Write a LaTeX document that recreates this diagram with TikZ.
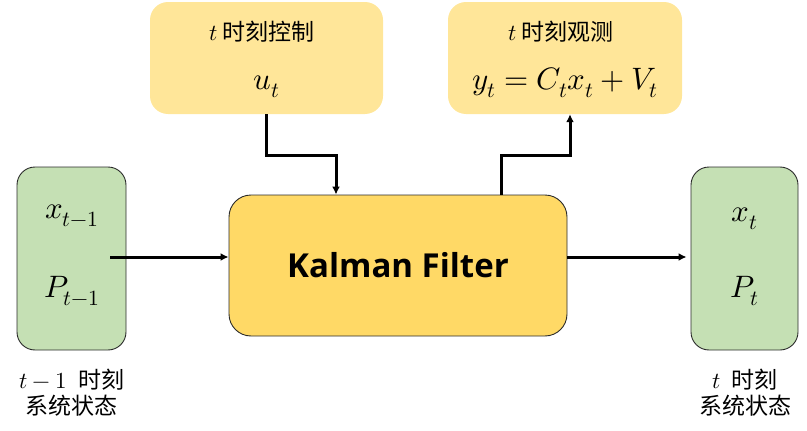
\documentclass[tikz,border=0pt]{standalone}
\usepackage{fontspec}
\usepackage{unicode-math}
\newfontfamily\cjk{Noto Sans CJK SC}
\newfontfamily\kfont{Open Sans}
\usetikzlibrary{arrows.meta}
\definecolor{gfill}{HTML}{C5E0B4}
\definecolor{kfill}{HTML}{FFD966}
\definecolor{yfill}{HTML}{FFE699}
\definecolor{edge}{HTML}{2B2B2B}
\tikzset{
  state/.style={draw=edge, line width=0.9pt, fill=gfill, rounded corners=18pt, minimum width=109pt, minimum height=183pt, inner sep=0pt},
  topbox/.style={fill=yfill, rounded corners=18pt, minimum width=233pt, minimum height=112pt, inner sep=0pt},
  kbox/.style={draw=edge, line width=0.9pt, fill=kfill, rounded corners=22pt, minimum width=338pt, minimum height=141pt, inner sep=0pt},
  mathtxt/.style={font=\fontsize{31}{34}\selectfont, inner sep=0pt},
  lbl/.style={font=\cjk\fontsize{23}{26}\selectfont, inner sep=0pt},
  arr/.style={line width=3pt, -{Latex[length=8pt,width=8pt]}},
}
\begin{document}
\begin{tikzpicture}[x=1pt,y=-1pt]
\useasboundingbox (0,0) rectangle (807,431);
% boxes
\node[topbox] (ctrl) at (266.5,58) {};
\node[topbox, minimum width=234pt] (obs) at (565,58) {};
\node[kbox] (kf) at (398,265.5) {};
\node[state] (left) at (71.5,258.5) {};
\node[state, minimum width=107pt] (right) at (744.5,258.5) {};
% texts
\node[lbl] (ctrlt) at (262,32) {$t$ 时刻控制};
\node[mathtxt] (ut) at (266.5,87) {$u_t$};
\node[lbl] (obst) at (561,32) {$t$ 时刻观测};
\node[mathtxt] (eq) at (565,83) {$y_t=C_tx_t+V_t$};
\node[font=\kfont\bfseries\fontsize{33}{38}\selectfont, inner sep=0pt] (kft) at (398,265) {Kalman Filter};
\node[mathtxt] (xp) at (72,216) {$x_{t-1}$};
\node[mathtxt] (pp) at (72,291) {$P_{t-1}$};
\node[mathtxt] (xn) at (745,219) {$x_t$};
\node[mathtxt] (pn) at (745,291) {$P_t$};
\node[lbl] (l1) at (72,380) {$t-1$\enspace 时刻};
\node[lbl] (l2) at (72,406) {系统状态};
\node[lbl] (r1) at (745,380) {$t$\enspace 时刻};
\node[lbl] (r2) at (745,406) {系统状态};
% connectors
\coordinate (la) at (110,257);
\coordinate (c1) at (336,155);
\coordinate (o1) at (501,155);
\coordinate (o2) at (570,155);
\draw[arr] (la) -- (kf.west |- la);
\draw[arr, shorten >=4pt] (kf.east |- la) -- (right.west |- la);
\draw[arr] (ctrl.south) |- (c1) -- (c1 |- kf.north);
\draw[arr] (o1 |- kf.north) -- (o1) -- (o2) -- (o2 |- obs.south);
\end{tikzpicture}
\end{document}
